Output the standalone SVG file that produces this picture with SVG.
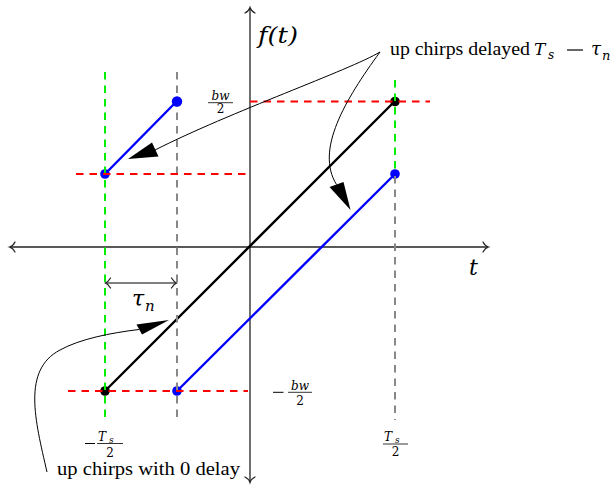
<svg xmlns="http://www.w3.org/2000/svg" width="614" height="486" viewBox="0 0 614 486">
<style>
.ax{stroke:#222;stroke-width:1.3;fill:none}
.tip{stroke:#222;stroke-width:1.2;fill:none;stroke-linecap:round}
.dsh{fill:none;stroke-width:2;stroke-dasharray:7.5 6}
.g{stroke:#00ee00}.r{stroke:#ff0000}.gr{stroke:#888888}
.ch{fill:none;stroke-width:2.4;stroke-linecap:round}
.ann{fill:none;stroke:#000;stroke-width:1}
.txt{font-family:"Liberation Serif",serif;font-size:18px;fill:#000}
.m{font-family:"DejaVu Serif",serif;font-style:italic;fill:#000}
.n{font-family:"DejaVu Serif",serif;fill:#000}
</style>
<rect width="614" height="486" fill="#fff"/>
<g id="axes">
<line class="ax" x1="10" y1="247" x2="488" y2="247"/>
<path class="tip" d="M483,242 Q485,246 488.5,247 Q485,248 483,252"/>
<path class="tip" d="M15,242 Q13,246 9.5,247 Q13,248 15,252"/>
<line class="ax" x1="250" y1="8" x2="250" y2="482"/>
<path class="tip" d="M245,13 Q249,11 250,7.5 Q251,11 255,13"/>
<path class="tip" d="M245,477 Q249,479 250,482.5 Q251,479 255,477"/>
</g>
<g id="chirps">
<line class="ch" x1="105" y1="391" x2="395" y2="101" stroke="#000"/>
<line class="ch" x1="105" y1="174" x2="177" y2="101" stroke="#0000ff"/>
<line class="ch" x1="177" y1="391" x2="395" y2="174" stroke="#0000ff"/>
</g>
<g id="points">
<circle cx="105" cy="174" r="4.8" fill="#0000ff"/>
<circle cx="395" cy="174" r="4.8" fill="#0000ff"/>
<circle cx="177" cy="391" r="4.8" fill="#0000ff"/>
<circle cx="395" cy="101.5" r="4.8" fill="#000"/>
<circle cx="105" cy="391" r="4.8" fill="#000"/>
</g>
<g id="guides">
<line class="dsh g" x1="105" y1="72" x2="105" y2="420"/>
<line class="dsh gr" x1="177" y1="72" x2="177" y2="420"/>
<line class="dsh g" x1="395" y1="80" x2="395" y2="174"/>
<line class="dsh gr" x1="395" y1="176" x2="395" y2="420"/>
<line class="dsh r" x1="250" y1="101.5" x2="430" y2="101.5"/>
<line class="dsh r" x1="76" y1="174" x2="250" y2="174"/>
<line class="dsh r" x1="68" y1="391" x2="248" y2="391"/>
</g>
<g id="point-top">
<circle cx="177" cy="101.5" r="5.2" fill="#0000ff"/>
</g>
<g id="tau-dim">
<line x1="105.5" y1="283" x2="176.5" y2="283" stroke="#000" stroke-width="1.2"/>
<path class="tip" d="M110.5,278 Q108,282 105.5,283 Q108,284 110.5,288" stroke="#000"/>
<path class="tip" d="M171.5,278 Q174,282 176.5,283 Q174,284 171.5,288" stroke="#000"/>
<text class="m" x="132" y="306" font-size="22">τ</text>
<text class="m" x="145" y="311" font-size="15">n</text>
</g>
<g id="connectors">
<path class="ann" d="M380,52 C350,70 230,112 155,150"/>
<polygon points="128,159 152,142.5 158.5,156.5" fill="#000"/>
<path class="ann" d="M380,52 C345,100 315,150 336.5,184.5"/>
<polygon points="350.5,210 329.5,187 343.5,182" fill="#000"/>
<path class="ann" d="M47,472 C35,420 22,370 60,350 C80,339 110,333 139,329.5"/>
<polygon points="169,320 136.5,324.5 142,334.5" fill="#000"/>
</g>
<g id="labels">
<text class="m" x="258" y="43" font-size="22" textLength="40" lengthAdjust="spacingAndGlyphs">f(t)</text>
<text class="m" x="469" y="275" font-size="22">t</text>
<text class="m" x="220.5" y="99.5" font-size="12" text-anchor="middle">bw</text>
<line x1="208" y1="102.7" x2="233" y2="102.7" stroke="#000" stroke-width="0.8"/>
<text class="n" x="220.5" y="113" font-size="12" text-anchor="middle">2</text>
<line x1="273" y1="392.3" x2="283.5" y2="392.3" stroke="#000" stroke-width="1"/>
<text class="m" x="300" y="389.5" font-size="12" text-anchor="middle">bw</text>
<line x1="288" y1="392.3" x2="312" y2="392.3" stroke="#000" stroke-width="0.8"/>
<text class="n" x="300" y="405" font-size="12" text-anchor="middle">2</text>
<line x1="85" y1="443.5" x2="95" y2="443.5" stroke="#000" stroke-width="1"/>
<text class="m" x="98" y="441" font-size="12">T</text>
<text class="m" x="109" y="443" font-size="9">s</text>
<line x1="97" y1="443.5" x2="123" y2="443.5" stroke="#000" stroke-width="0.8"/>
<text class="n" x="110" y="456.5" font-size="12" text-anchor="middle">2</text>
<text class="m" x="384" y="440.5" font-size="12">T</text>
<text class="m" x="395" y="442.5" font-size="9">s</text>
<line x1="383" y1="444" x2="408" y2="444" stroke="#000" stroke-width="0.8"/>
<text class="n" x="395.5" y="455.5" font-size="12" text-anchor="middle">2</text>
<text class="txt" x="390" y="55" textLength="140" lengthAdjust="spacingAndGlyphs">up chirps delayed</text>
<text class="m" x="534" y="55" font-size="17">T</text>
<text class="m" x="548" y="59" font-size="12">s</text>
<line x1="567" y1="50" x2="583" y2="50" stroke="#000" stroke-width="1.2"/>
<text class="m" x="591" y="55" font-size="18">τ</text>
<text class="m" x="602" y="59.5" font-size="13">n</text>
<text class="txt" x="57" y="475" textLength="183" lengthAdjust="spacingAndGlyphs">up chirps with 0 delay</text>
</g>
</svg>
